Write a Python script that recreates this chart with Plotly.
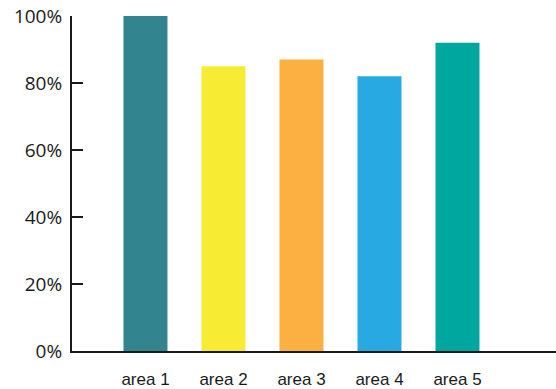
import plotly.graph_objects as go

categories = ["area 1", "area 2", "area 3", "area 4", "area 5"]
values = [100, 85, 87, 82, 92]
bar_colors = ["#32858e", "#f7ec33", "#fdb042", "#28a9e1", "#00a79e"]
y_ticks = [0, 20, 40, 60, 80, 100]
y_tick_labels = [f"{v}%" for v in y_ticks]

fig = go.Figure(
    go.Bar(
        x=categories,
        y=values,
        marker=dict(color=bar_colors, line=dict(width=0)),
        hoverinfo="skip",
    )
)

fig.update_layout(
    width=556,
    height=389,
    margin=dict(l=72, r=0, t=16, b=38),
    paper_bgcolor="white",
    plot_bgcolor="white",
    bargap=0.436,
    showlegend=False,
)

fig.update_xaxes(
    type="category",
    range=[-0.942, 5.263],
    automargin=False,
    showline=True,
    linecolor="#1a1a1a",
    linewidth=2,
    showgrid=False,
    zeroline=False,
    ticks="outside",
    ticklen=12,
    tickcolor="rgba(0,0,0,0)",
    tickfont=dict(family="Liberation Sans", size=17, color="#1a1a1a"),
)

fig.update_yaxes(
    range=[0, 100],
    automargin=False,
    tickmode="array",
    tickvals=y_ticks,
    ticktext=y_tick_labels,
    showline=True,
    linecolor="#1a1a1a",
    linewidth=2,
    showgrid=False,
    zeroline=False,
    ticks="inside",
    ticklen=11,
    tickwidth=2,
    tickcolor="#1a1a1a",
    ticklabelstandoff=4,
    tickfont=dict(family="Open Sans", size=19, color="#1a1a1a"),
)

fig.write_html("out.html")
